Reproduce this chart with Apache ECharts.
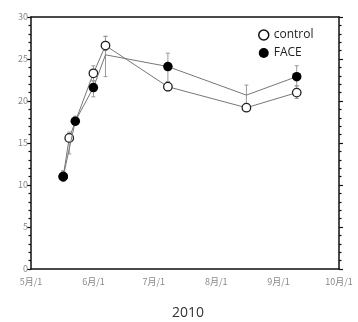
<!DOCTYPE html>
<html><head><meta charset="utf-8">
<script src="https://cdn.jsdelivr.net/npm/echarts@6/dist/echarts.min.js"></script>
<style>html,body{margin:0;padding:0;background:#fff}#c{width:358px;height:322px}</style>
</head><body><div id="c"></div>
<script>
// ---- data ----
const yearLabel = '2010';
const xTickDates = ['2010-05-01','2010-06-01','2010-07-01','2010-08-01','2010-09-01','2010-10-01'];
const xTickLabels = ['5月/1','6月/1','7月/1','8月/1','9月/1','10月/1'];

const controlDates = ['2010-05-17','2010-05-20','2010-06-01','2010-06-07','2010-07-08','2010-08-16','2010-09-10'];
const controlMean  = [11.0, 15.6, 23.3, 26.6, 21.7, 19.2, 21.0];
const controlLow   = [10.5, 13.7, 22.4, 26.0, 21.2, 18.9, 20.3];
const controlHigh  = [11.6, 16.3, 24.2, 27.7, 22.3, 19.5, 21.8];

const faceDates = ['2010-05-17','2010-05-23','2010-06-01','2010-06-07','2010-07-08','2010-08-16','2010-09-10'];
const faceMean  = [11.0, 17.6, 21.6, 25.5, 24.1, 20.7, 22.9];
const faceLow   = [10.4, 17.1, 20.5, 22.9, 22.3, 19.6, 21.8];
const faceHigh  = [11.7, 18.2, 22.4, 27.7, 25.7, 21.9, 24.2];
const faceNoMarker = [3, 5];

// ---- helpers ----
const origin = Date.UTC(2010, 4, 1);
function dayOf(s) { const p = s.split('-').map(Number); return (Date.UTC(p[0], p[1]-1, p[2]) - origin) / 86400000; }
const tickDays = xTickDates.map(dayOf);
const labelFont = '"Noto Sans CJK JP", "Noto Sans", sans-serif';

const controlData = controlDates.map((d, i) => [dayOf(d), controlMean[i]]);
const faceData = faceDates.map((d, i) => {
  const item = { value: [dayOf(d), faceMean[i]] };
  if (faceNoMarker.includes(i)) item.symbol = 'none';
  return item;
});
const errData = controlDates.map((d, i) => [dayOf(d), controlLow[i], controlHigh[i]])
  .concat(faceDates.map((d, i) => [dayOf(d), faceLow[i], faceHigh[i]]));

function yAxisCfg(pos, showLabel) {
  return {
    type: 'value', min: 0, max: 30, interval: 5, position: pos, gridIndex: 0,
    axisLine: { show: true, onZero: false, lineStyle: { color: '#111', width: 1.5 } },
    axisTick: { show: true, inside: false, length: 4, lineStyle: { color: '#111', width: 1.2 } },
    minorTick: { show: true, splitNumber: 5, length: 2.5, lineStyle: { color: '#111', width: 1.2 } },
    splitLine: { show: false },
    axisLabel: { show: showLabel, margin: 3, fontSize: 9, color: '#888', fontFamily: labelFont }
  };
}

const chart = echarts.init(document.getElementById('c'), null, { renderer: 'canvas' });
chart.setOption({
  animation: false,
  backgroundColor: '#fff',
  grid: { left: 31, right: 19, top: 17, bottom: 53, containLabel: false },
  legend: {
    orient: 'vertical', left: 253, top: 24, itemWidth: 10, itemHeight: 10, itemGap: 6,
    textStyle: { fontFamily: '"Open Sans", sans-serif', fontSize: 12, color: '#222' },
    data: [
      { name: 'control', icon: 'circle', itemStyle: { color: '#fff', borderColor: '#111', borderWidth: 1.5 } },
      { name: 'FACE', icon: 'circle', itemStyle: { color: '#000' } }
    ]
  },
  xAxis: [{
    type: 'value', min: tickDays[0], max: tickDays[tickDays.length - 1], position: 'bottom',
    axisLine: { show: true, onZero: false, lineStyle: { color: '#111', width: 1.5 } },
    axisTick: { show: false },
    splitLine: { show: false },
    axisLabel: {
      customValues: tickDays, margin: 8, fontSize: 9, color: '#888', fontFamily: labelFont,
      formatter: v => xTickLabels[tickDays.indexOf(v)]
    }
  }, {
    type: 'value', min: tickDays[0], max: tickDays[tickDays.length - 1], position: 'top',
    axisLine: { show: true, onZero: false, lineStyle: { color: '#111', width: 1.5 } },
    axisTick: { show: false }, axisLabel: { show: false }, splitLine: { show: false }
  }],
  yAxis: [yAxisCfg('left', true), yAxisCfg('right', false)],
  graphic: [{
    type: 'text', x: 188, y: 313,
    style: { text: yearLabel, textAlign: 'center', textVerticalAlign: 'middle', fontSize: 14, fill: '#333', fontFamily: '"Open Sans", sans-serif' }
  }],
  series: [{
    type: 'custom', name: 'err', z: 1, silent: true,
    renderItem: (params, api) => {
      const x = api.value(0);
      const lo = api.coord([x, api.value(1)]);
      const hi = api.coord([x, api.value(2)]);
      const st = { stroke: '#999', lineWidth: 1 };
      return { type: 'group', children: [
        { type: 'line', shape: { x1: lo[0], y1: lo[1], x2: hi[0], y2: hi[1] }, style: st },
        { type: 'line', shape: { x1: lo[0]-2, y1: lo[1], x2: lo[0]+2, y2: lo[1] }, style: st },
        { type: 'line', shape: { x1: hi[0]-2, y1: hi[1], x2: hi[0]+2, y2: hi[1] }, style: st }
      ]};
    },
    encode: { x: 0, y: [1, 2] },
    data: errData
  }, {
    type: 'line', name: 'control', z: 3, data: controlData,
    symbol: 'circle', symbolSize: 8.5, showAllSymbol: true,
    lineStyle: { color: '#777', width: 1 },
    itemStyle: { color: '#fff', borderColor: '#222', borderWidth: 1.3 }
  }, {
    type: 'line', name: 'FACE', z: 4, data: faceData,
    symbol: 'circle', symbolSize: 9.5, showAllSymbol: true,
    lineStyle: { color: '#777', width: 1 },
    itemStyle: { color: '#000', borderColor: '#000', borderWidth: 0 }
  }, {
    type: 'line', name: 'rightAxisHolder', yAxisIndex: 1, data: [], silent: true
  }]
});
</script></body></html>
